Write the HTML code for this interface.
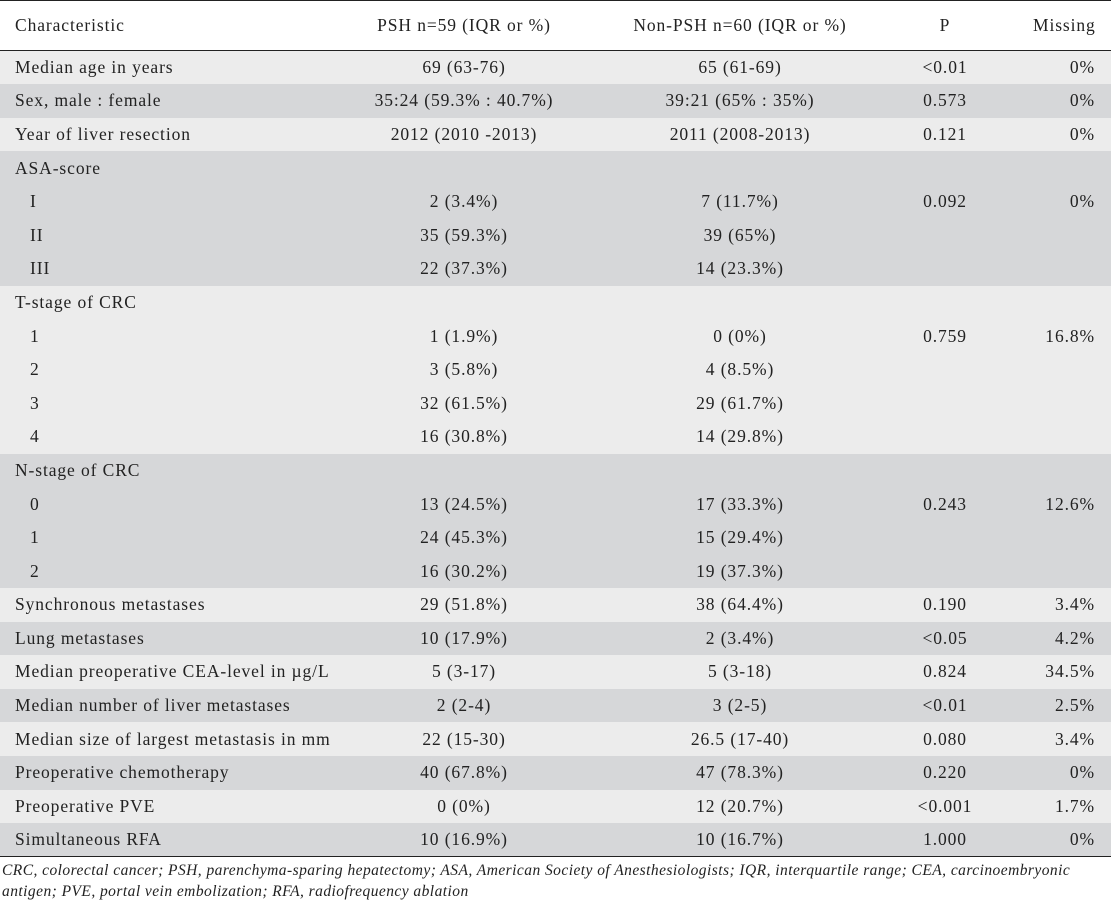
<!DOCTYPE html>
<html><head><meta charset="utf-8"><style>
body{margin:0;width:1111px;height:900px;background:#fff;font-family:"Liberation Serif",serif;color:#222;overflow:hidden}
table{border-collapse:collapse;width:1111px;font-size:17.5px;letter-spacing:0.9px;border-top:1.5px solid #222;table-layout:fixed}
td,th{height:33.6px;padding:0;font-weight:normal;box-sizing:border-box;white-space:nowrap}
th{height:50px;border-bottom:1.5px solid #222}
.a{padding-left:15px;text-align:left;width:305px}
.s{padding-left:30px}
.b{text-align:center;width:318px}
.c{text-align:center;width:234px}
.d{text-align:center;width:176px}
.e{text-align:right;padding-right:16px}
.L td{background:#ececec}
.D td{background:#d6d7d9}
.last td{border-bottom:1.5px solid #222}
.f{font-style:italic;font-size:15.5px;letter-spacing:0.45px;padding:3px 0 0 2px;line-height:21px}
</style></head><body>
<table>
<tr><th class="a">Characteristic</th><th class="b">PSH n=59 (IQR or %)</th><th class="c">Non-PSH n=60 (IQR or %)</th><th class="d">P</th><th class="e">Missing</th></tr>
<tr class="L"><td class="a">Median age in years</td><td class="b">69 (63-76)</td><td class="c">65 (61-69)</td><td class="d">&lt;0.01</td><td class="e">0%</td></tr>
<tr class="D"><td class="a">Sex, male : female</td><td class="b">35:24 (59.3% : 40.7%)</td><td class="c">39:21 (65% : 35%)</td><td class="d">0.573</td><td class="e">0%</td></tr>
<tr class="L"><td class="a">Year of liver resection</td><td class="b">2012 (2010 -2013)</td><td class="c">2011 (2008-2013)</td><td class="d">0.121</td><td class="e">0%</td></tr>
<tr class="D"><td class="a">ASA-score</td><td class="b"></td><td class="c"></td><td class="d"></td><td class="e"></td></tr>
<tr class="D"><td class="a s">I</td><td class="b">2 (3.4%)</td><td class="c">7 (11.7%)</td><td class="d">0.092</td><td class="e">0%</td></tr>
<tr class="D"><td class="a s">II</td><td class="b">35 (59.3%)</td><td class="c">39 (65%)</td><td class="d"></td><td class="e"></td></tr>
<tr class="D"><td class="a s">III</td><td class="b">22 (37.3%)</td><td class="c">14 (23.3%)</td><td class="d"></td><td class="e"></td></tr>
<tr class="L"><td class="a">T-stage of CRC</td><td class="b"></td><td class="c"></td><td class="d"></td><td class="e"></td></tr>
<tr class="L"><td class="a s">1</td><td class="b">1 (1.9%)</td><td class="c">0 (0%)</td><td class="d">0.759</td><td class="e">16.8%</td></tr>
<tr class="L"><td class="a s">2</td><td class="b">3 (5.8%)</td><td class="c">4 (8.5%)</td><td class="d"></td><td class="e"></td></tr>
<tr class="L"><td class="a s">3</td><td class="b">32 (61.5%)</td><td class="c">29 (61.7%)</td><td class="d"></td><td class="e"></td></tr>
<tr class="L"><td class="a s">4</td><td class="b">16 (30.8%)</td><td class="c">14 (29.8%)</td><td class="d"></td><td class="e"></td></tr>
<tr class="D"><td class="a">N-stage of CRC</td><td class="b"></td><td class="c"></td><td class="d"></td><td class="e"></td></tr>
<tr class="D"><td class="a s">0</td><td class="b">13 (24.5%)</td><td class="c">17 (33.3%)</td><td class="d">0.243</td><td class="e">12.6%</td></tr>
<tr class="D"><td class="a s">1</td><td class="b">24 (45.3%)</td><td class="c">15 (29.4%)</td><td class="d"></td><td class="e"></td></tr>
<tr class="D"><td class="a s">2</td><td class="b">16 (30.2%)</td><td class="c">19 (37.3%)</td><td class="d"></td><td class="e"></td></tr>
<tr class="L"><td class="a">Synchronous metastases</td><td class="b">29 (51.8%)</td><td class="c">38 (64.4%)</td><td class="d">0.190</td><td class="e">3.4%</td></tr>
<tr class="D"><td class="a">Lung metastases</td><td class="b">10 (17.9%)</td><td class="c">2 (3.4%)</td><td class="d">&lt;0.05</td><td class="e">4.2%</td></tr>
<tr class="L"><td class="a">Median preoperative CEA-level in µg/L</td><td class="b">5 (3-17)</td><td class="c">5 (3-18)</td><td class="d">0.824</td><td class="e">34.5%</td></tr>
<tr class="D"><td class="a">Median number of liver metastases</td><td class="b">2 (2-4)</td><td class="c">3 (2-5)</td><td class="d">&lt;0.01</td><td class="e">2.5%</td></tr>
<tr class="L"><td class="a">Median size of largest metastasis in mm</td><td class="b">22 (15-30)</td><td class="c">26.5 (17-40)</td><td class="d">0.080</td><td class="e">3.4%</td></tr>
<tr class="D"><td class="a">Preoperative chemotherapy</td><td class="b">40 (67.8%)</td><td class="c">47 (78.3%)</td><td class="d">0.220</td><td class="e">0%</td></tr>
<tr class="L"><td class="a">Preoperative PVE</td><td class="b">0 (0%)</td><td class="c">12 (20.7%)</td><td class="d">&lt;0.001</td><td class="e">1.7%</td></tr>
<tr class="D last"><td class="a">Simultaneous RFA</td><td class="b">10 (16.9%)</td><td class="c">10 (16.7%)</td><td class="d">1.000</td><td class="e">0%</td></tr>
</table>
<div class="f">CRC, colorectal cancer; PSH, parenchyma-sparing hepatectomy; ASA, American Society of Anesthesiologists; IQR, interquartile range; CEA, carcinoembryonic<br>antigen; PVE, portal vein embolization; RFA, radiofrequency ablation</div>
</body></html>
